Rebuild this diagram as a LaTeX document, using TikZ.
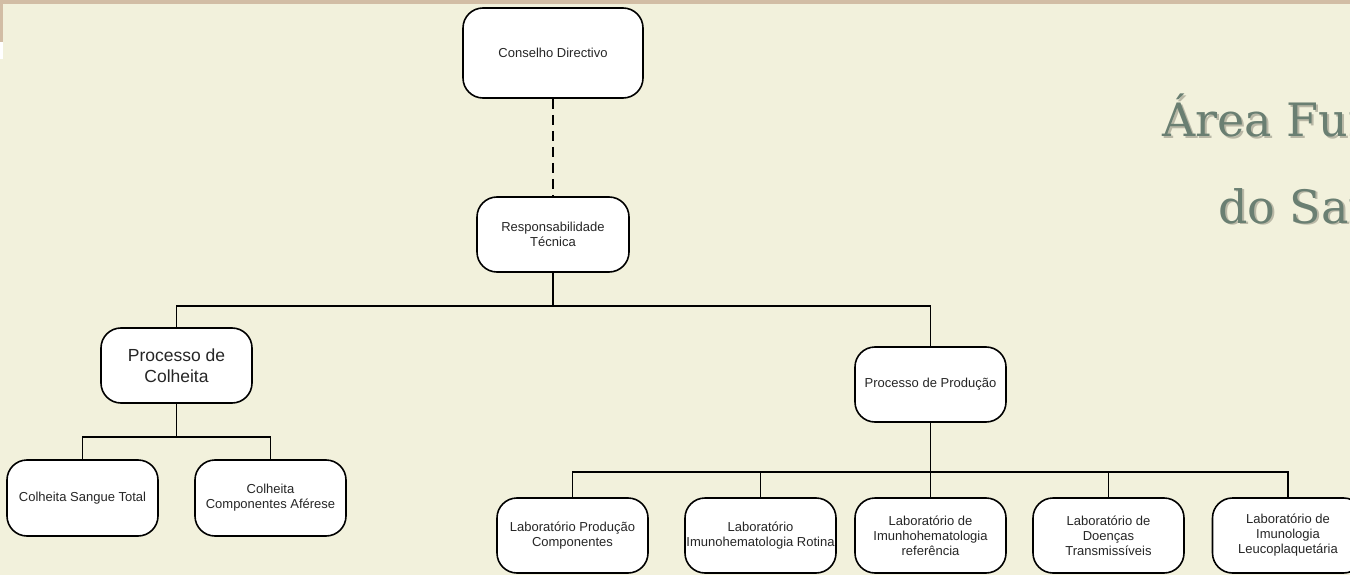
\documentclass[tikz,border=0pt]{standalone}
\usepackage{fontspec}
\setmainfont{Liberation Sans}
\newfontfamily\titlefont{DejaVu Serif}
\definecolor{bgc}{HTML}{F2F1DC}
\definecolor{tanc}{HTML}{D2BDA5}
\definecolor{titlec}{HTML}{6A7F72}
\definecolor{shadowc}{HTML}{B9B8A6}
\begin{document}
\begin{tikzpicture}[x=1pt,y=-1pt,
  box/.style={draw=black, line width=1.6pt, fill=white, rounded corners=20pt,
    minimum width=151pt, minimum height=75pt, align=center, inner sep=0pt,
    text=black!85, font=\fontsize{13}{15}\selectfont},
  bigbox/.style={box, font=\fontsize{17.5}{21}\selectfont},
  link/.style={line width=1.6pt},
  dlink/.style={line width=1.6pt, dash pattern=on 10pt off 6pt},
  titletext/.style={anchor=base west, inner sep=0pt, font=\titlefont\fontsize{46}{54}\selectfont}
]
\useasboundingbox (0,0) rectangle (1350,575);
\fill[bgc] (0,0) rectangle (1350,575);
\fill[tanc] (0,0) rectangle (1350,4);
\fill[tanc] (0,0) rectangle (3,42);
\fill[white] (0,42) rectangle (3,59);

% title (clipped at the right edge, as in the reference)
\begin{scope}
\clip (0,0) rectangle (1350,575);
\node[titletext, text=shadowc] at (1164,139) {Área Funcional};
\node[titletext, text=titlec] at (1162,137) {Área Funcional};
\node[titletext, text=shadowc] at (1220,225) {do Sangue};
\node[titletext, text=titlec] at (1218,223) {do Sangue};
\end{scope}

% nodes
\node[box, minimum width=180pt, minimum height=90pt] (cd) at (553,53) {Conselho Directivo};
\node[box, minimum width=152pt] (rt) at (553,234.5) {Responsabilidade\\Técnica};
\node[bigbox] (pc) at (176.5,365.5) {Processo de\\Colheita};
\node[box] (pp) at (930.5,384.5) {Processo de Produção};
\node[box, minimum height=76pt] (cst) at (82.5,498) {Colheita Sangue Total};
\node[box, minimum height=76pt] (cca) at (270.5,498) {Colheita\\Componentes Aférese};
\node[box] (lpc) at (572.5,535.5) {Laboratório Produção\\Componentes};
\node[box] (lir) at (760.5,535.5) {Laboratório\\Imunohematologia Rotina};
\node[box] (lirf) at (930.5,535.5) {Laboratório de\\Imunhohematologia\\referência};
\node[box] (ldt) at (1108.5,535.5) {Laboratório de\\Doenças\\Transmissíveis};
\node[box] (lil) at (1288,535.5) {Laboratório de\\Imunologia\\Leucoplaquetária};

% bus coordinates
\coordinate (bus1) at (0,306);
\coordinate (bus2) at (0,437);
\coordinate (bus3) at (0,472);

% connectors
\draw[dlink] (cd.south) -- (rt.north);
\draw[link] (rt.south) -- (rt.south |- bus1);
\draw[link] (pc.north) -- (pc.north |- bus1) -- (pp.north |- bus1) -- (pp.north);
\draw[link] (pc.south) -- (pc.south |- bus2);
\draw[link] (cst.north) -- (cst.north |- bus2) -- (cca.north |- bus2) -- (cca.north);
\draw[link] (pp.south) -- (lirf.north);
\draw[link] (lpc.north) -- (lpc.north |- bus3) -- (lil.north |- bus3) -- (lil.north);
\draw[link] (lir.north) -- (lir.north |- bus3);
\draw[link] (ldt.north) -- (ldt.north |- bus3);
\end{tikzpicture}
\end{document}
